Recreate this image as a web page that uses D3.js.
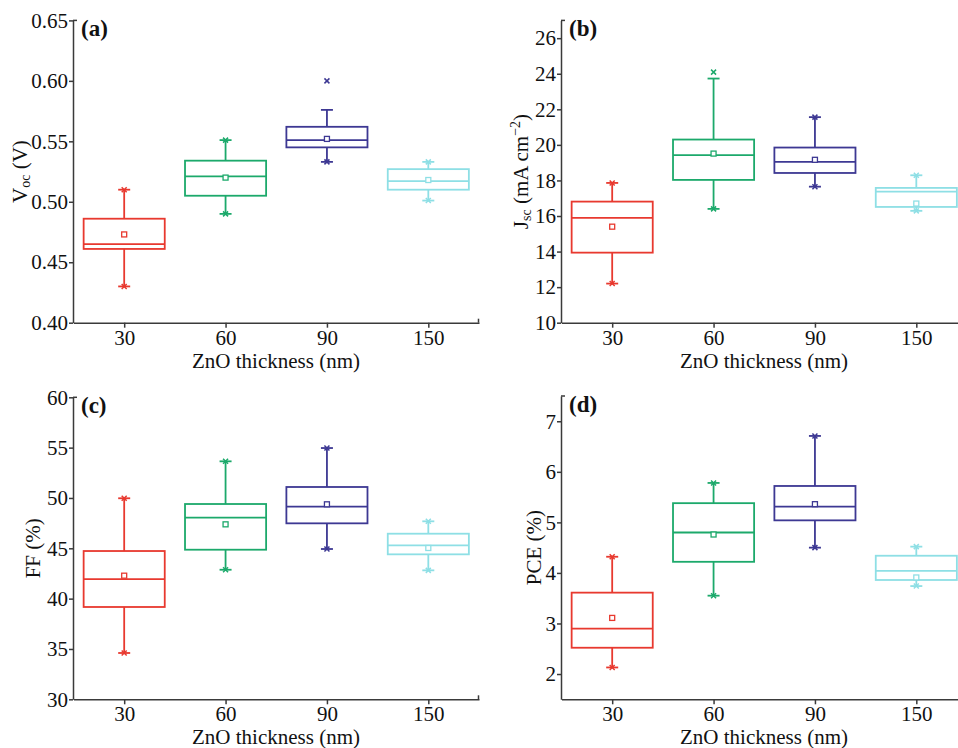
<!DOCTYPE html>
<html>
<head>
<meta charset="utf-8">
<script src="https://cdnjs.cloudflare.com/ajax/libs/d3/7.8.5/d3.min.js"></script>
<style>
  body { margin: 0; background: #fff; }
  svg, svg text { font-family: "Liberation Serif", "Times New Roman", Times, "DejaVu Serif", serif; }
</style>
</head>
<body>
<svg width="958" height="748"></svg>
<script>
// ZnO thickness groups
var groups = ["30", "60", "90", "150"]
var boxColors = ["#e8392f", "#1ca96b", "#3d3893", "#8edfe5"]
var serif = "'Liberation Serif', 'Times New Roman', Times, 'DejaVu Serif', serif"

// box stats per group: [whisker low, q1, median, q3, whisker high]
var vocBox = [[0.430, 0.461, 0.465, 0.486, 0.510], [0.490, 0.505, 0.521, 0.534, 0.551],
              [0.533, 0.545, 0.551, 0.562, 0.576], [0.501, 0.510, 0.517, 0.527, 0.533]]
var vocMean = [0.473, 0.520, 0.552, 0.518]
var vocCross = [[0.430, 0.510], [0.490, 0.551], [0.533, 0.600], [0.501, 0.533]]
var vocTicks = [0.40, 0.45, 0.50, 0.55, 0.60, 0.65]

var jscBox = [[12.20, 13.94, 15.89, 16.81, 17.86], [16.40, 18.03, 19.42, 20.30, 23.73],
              [17.65, 18.42, 19.04, 19.85, 21.56], [16.29, 16.51, 17.37, 17.58, 18.29]]
var jscMean = [15.40, 19.51, 19.16, 16.70]
var jscCross = [[12.20, 17.86], [16.40, 24.09], [17.65, 21.56], [16.29, 18.29]]
var jscTicks = [10, 12, 14, 16, 18, 20, 22, 24, 26]

var ffBox = [[34.60, 39.17, 41.93, 44.73, 49.97], [42.87, 44.86, 48.04, 49.40, 53.64],
             [44.93, 47.48, 49.13, 51.09, 54.96], [42.81, 44.40, 45.30, 46.45, 47.68]]
var ffMean = [42.28, 47.38, 49.37, 45.03]
var ffCross = [[34.60, 49.97], [42.87, 53.64], [44.93, 54.96], [42.81, 47.68]]
var ffTicks = [30, 35, 40, 45, 50, 55, 60]

var pceBox = [[2.13, 2.52, 2.90, 3.61, 4.32], [3.55, 4.22, 4.80, 5.38, 5.78],
              [4.50, 5.04, 5.31, 5.72, 6.71], [3.74, 3.86, 4.04, 4.34, 4.52]]
var pceMean = [3.11, 4.76, 5.36, 3.91]
var pceCross = [[2.13, 4.32], [3.55, 5.78], [4.50, 6.71], [3.74, 4.52]]
var pceTicks = [2, 3, 4, 5, 6, 7]

var svg = d3.select("svg").attr("font-family", serif)

var panels = [
    {tag: "(a)", box: vocBox, mean: vocMean, cross: vocCross, ticks: vocTicks, fmt: ".2f",
     domain: [0.40, 0.65], left: 73, right: 479, top: 20.4, bottom: 322.7, labX: 20,
     ylab: [["V", 0], ["oc", 1], [" (V)", 0]]},
    {tag: "(b)", box: jscBox, mean: jscMean, cross: jscCross, ticks: jscTicks, fmt: "d",
     domain: [10, 27], left: 561, right: 967, top: 20.4, bottom: 322.7, labX: 521,
     ylab: [["J", 0], ["sc", 1], [" (mA cm", 0], ["\u22122", -1], [")", 0]]},
    {tag: "(c)", box: ffBox, mean: ffMean, cross: ffCross, ticks: ffTicks, fmt: "d",
     domain: [30, 60], left: 73, right: 479, top: 397.3, bottom: 699.3, labX: 33,
     ylab: [["FF (%)", 0]]},
    {tag: "(d)", box: pceBox, mean: pceMean, cross: pceCross, ticks: pceTicks, fmt: "d",
     domain: [1.5, 7.5], left: 561, right: 967, top: 396, bottom: 699.3, labX: 534,
     ylab: [["PCE (%)", 0]]}
]

var axisColor = "#3a3a3a"

panels.forEach(function (p) {
    var x = d3.scaleLinear().domain([0.5, 4.5]).range([p.left + 0.5, p.right])
    var y = d3.scaleLinear().domain(p.domain).range([p.bottom, p.top])
    var g = svg.append("g").attr("font-family", serif)

    // axes
    var xAxis = g.append("g")
        .attr("transform", "translate(0," + p.bottom + ")")
        .call(d3.axisBottom(x).tickValues([1, 2, 3, 4])
            .tickFormat(function (d, i) { return groups[i] })
            .tickSize(5).tickSizeOuter(0).tickPadding(2))
    var yAxis = g.append("g")
        .attr("transform", "translate(" + p.left + ",0)")
        .call(d3.axisLeft(y).tickValues(p.ticks).tickFormat(d3.format(p.fmt))
            .tickSize(4).tickSizeOuter(0).tickPadding(1))

    ;[xAxis, yAxis].forEach(function (a) {
        a.attr("font-family", serif).attr("font-size", 21)
        a.selectAll("path, line").attr("stroke", axisColor).attr("stroke-width", 1.5)
        a.selectAll("text").attr("fill", "#111")
            .attr("font-family", serif).attr("font-size", 21)
    })
    // little end stubs
    g.append("line").attr("x1", p.left).attr("x2", p.left + 4).attr("y1", p.top).attr("y2", p.top)
        .attr("stroke", axisColor).attr("stroke-width", 1.5)
    g.append("line").attr("x1", p.right - 0.5).attr("x2", p.right - 0.5).attr("y1", p.bottom).attr("y2", p.bottom - 4)
        .attr("stroke", axisColor).attr("stroke-width", 1.5)

    // axis titles
    g.append("text")
        .attr("x", (p.left + p.right) / 2)
        .attr("y", p.bottom + 45)
        .attr("text-anchor", "middle")
        .attr("font-family", serif)
        .attr("font-size", 21)
        .attr("fill", "#111")
        .text("ZnO thickness (nm)")

    var yl = g.append("text")
        .attr("transform", "translate(" + p.labX + "," + (p.top + p.bottom) / 2 + ") rotate(-90)")
        .attr("text-anchor", "middle")
        .attr("dy", "0.35em")
        .attr("font-family", serif)
        .attr("font-size", 21)
        .attr("fill", "#111")
    p.ylab.forEach(function (part) {
        var t = yl.append("tspan").text(part[0])
        if (part[1] == 1) t.attr("font-size", 14).attr("baseline-shift", "-22%")
        if (part[1] == -1) t.attr("font-size", 14).attr("baseline-shift", "60%")
    })

    g.append("text")
        .attr("x", p.left + 8)
        .attr("y", p.top + 16)
        .attr("font-family", serif)
        .attr("font-size", 23)
        .attr("font-weight", "bold")
        .attr("fill", "#111")
        .text(p.tag)

    // boxes
    var bw = (x(2) - x(1)) * 0.8
    p.box.forEach(function (b, i) {
        var cx = x(i + 1), c = boxColors[i]
        var bg = g.append("g").attr("stroke", c).attr("stroke-width", 1.8).attr("fill", "none")
        bg.append("line").attr("x1", cx).attr("x2", cx).attr("y1", y(b[0])).attr("y2", y(b[1]))
        bg.append("line").attr("x1", cx).attr("x2", cx).attr("y1", y(b[3])).attr("y2", y(b[4]))
        ;[b[0], b[4]].forEach(function (v) {
            bg.append("line").attr("x1", cx - 6).attr("x2", cx + 6).attr("y1", y(v)).attr("y2", y(v))
        })
        bg.append("rect").attr("x", cx - bw / 2).attr("y", y(b[3]))
            .attr("width", bw).attr("height", y(b[1]) - y(b[3]))
        bg.append("line").attr("x1", cx - bw / 2).attr("x2", cx + bw / 2)
            .attr("y1", y(b[2])).attr("y2", y(b[2]))
        // mean
        bg.append("rect").attr("x", cx - 2.5).attr("y", y(p.mean[i]) - 2.5)
            .attr("width", 5).attr("height", 5).attr("fill", "#fff").attr("stroke-width", 1.3)
        // min / max crosses
        p.cross[i].forEach(function (v) {
            var cy = y(v), s = 2.5
            bg.append("path")
                .attr("d", "M" + (cx - s) + "," + (cy - s) + "L" + (cx + s) + "," + (cy + s) +
                           "M" + (cx - s) + "," + (cy + s) + "L" + (cx + s) + "," + (cy - s))
                .attr("stroke-width", 1.5)
        })
    })
})
</script>
</body>
</html>
